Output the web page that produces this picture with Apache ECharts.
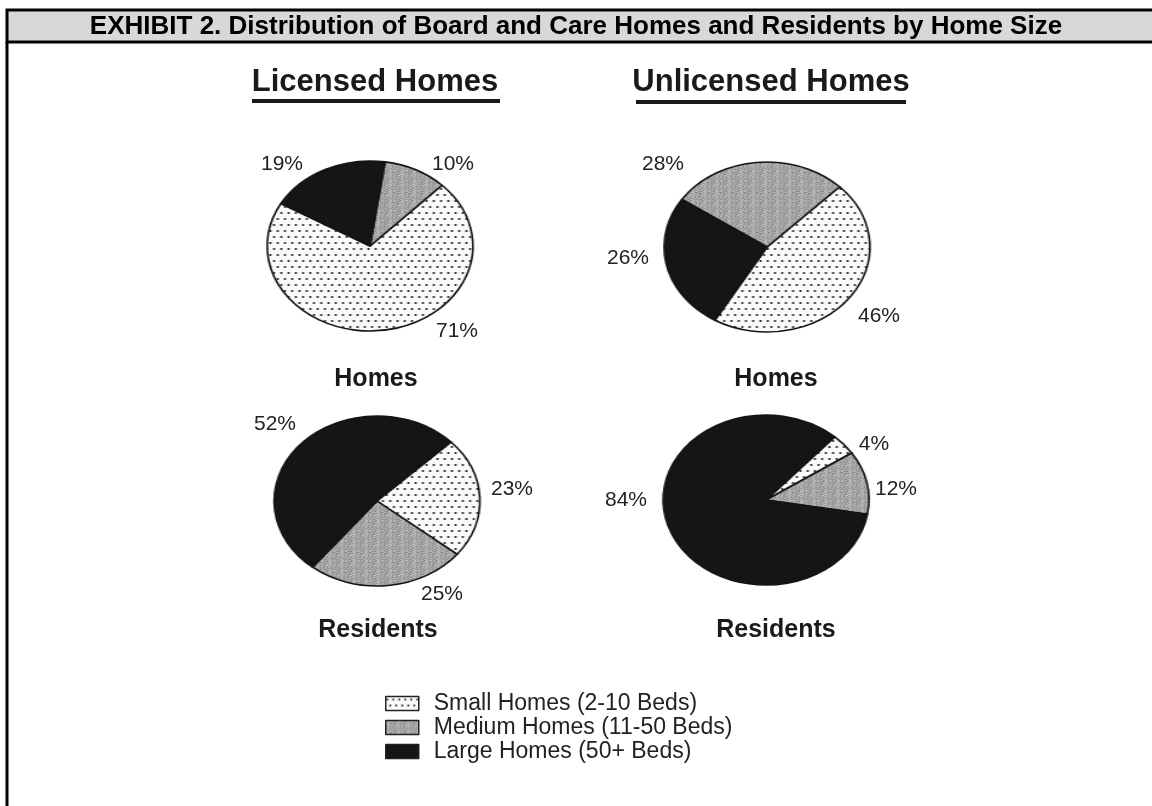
<!DOCTYPE html>
<html><head><meta charset="utf-8">
<script src="https://cdn.jsdelivr.net/npm/echarts@6/dist/echarts.min.js"></script>
<style>
html,body{margin:0;padding:0;background:#fff;overflow:hidden;}
#a{position:absolute;left:0;top:0;width:1152px;height:806px;}
#b{position:absolute;left:0;top:0;height:806px;transform-origin:0 0;pointer-events:none;}
</style></head><body>
<div id="a"></div><div id="b"></div>
<script>
// ---- data ----
const titleText = 'EXHIBIT 2. Distribution of Board and Care Homes and Residents by Home Size';
const columnTitles = ['Licensed Homes', 'Unlicensed Homes'];
const rowTitles = ['Homes', 'Residents'];
const categories = ['Small Homes (2-10 Beds)', 'Medium Homes (11-50 Beds)', 'Large Homes (50+ Beds)'];
const licensedHomes = [71, 10, 19];
const unlicensedHomes = [46, 28, 26];
const licensedResidents = [23, 25, 52];
const unlicensedResidents = [4, 12, 84];

// ---- layout / style ----
const SX = 1.21;            // horizontal stretch turning the round pies into ellipses
const RY = 85;
const FONT = '"Liberation Sans", Arial, Helvetica, sans-serif';
const pies = [
  { values: licensedHomes,       center: [370, 246], startAngle: 150,  clockwise: false,
    labels: [[457, 331], [453, 164], [282, 164]] },
  { values: unlicensedHomes,     center: [767, 247], startAngle: 239.5, clockwise: false,
    labels: [[879, 316], [663, 164], [628, 258]] },
  { values: licensedResidents,   center: [377, 501], startAngle: 44,   clockwise: true,
    labels: [[512, 489], [442, 594], [275, 424]] },
  { values: unlicensedResidents, center: [766, 500], startAngle: 48,   clockwise: true,
    labels: [[874, 444], [896, 489], [626, 500]] }
];

function dotPattern() {
  const c = document.createElement('canvas'); c.width = 6; c.height = 12;
  const g = c.getContext('2d');
  g.fillStyle = '#fafafa'; g.fillRect(0, 0, 6, 12);
  g.fillStyle = '#1e1e1e';
  [[1.5, 3], [4.5, 9]].forEach(function (p) { g.beginPath(); g.arc(p[0], p[1], 1.05, 0, Math.PI * 2); g.fill(); });
  return c;
}
function greyPattern() {
  const n = 10;
  const c = document.createElement('canvas'); c.width = n; c.height = n;
  const g = c.getContext('2d');
  const img = g.createImageData(n, n);
  for (let j = 0; j < n; j++) for (let i = 0; i < n; i++) {
    const h = ((i * 7 + j * 13 + (i * j) % 5) * 29) % 61;
    const v = 134 + h;
    const k = (j * n + i) * 4;
    img.data[k] = v; img.data[k + 1] = v; img.data[k + 2] = v; img.data[k + 3] = 255;
  }
  g.putImageData(img, 0, 0);
  return c;
}
const fills = [
  { image: dotPattern(), repeat: 'repeat' },
  { image: greyPattern(), repeat: 'repeat' },
  '#151515'
];

// ---- chart B: the pie slices (stretched horizontally) ----
const elB = document.getElementById('b');
elB.style.width = (1152 / SX) + 'px';
elB.style.transform = 'scaleX(' + SX + ')';
const chartB = echarts.init(elB, null, { renderer: 'canvas' });
chartB.setOption({
  animation: false,
  series: pies.map(function (p) {
    return {
      type: 'pie', silent: true,
      center: [p.center[0] / SX, p.center[1]], radius: RY,
      startAngle: p.startAngle, clockwise: p.clockwise,
      label: { show: false }, labelLine: { show: false },
      itemStyle: { borderColor: '#141414', borderWidth: 1.6 },
      emphasis: { disabled: true },
      data: p.values.map(function (v, i) { return { name: categories[i], value: v, itemStyle: { color: fills[i] } }; })
    };
  })
});

// ---- chart A: frame, texts, percentage labels, legend ----
const chartA = echarts.init(document.getElementById('a'), null, { renderer: 'canvas' });
function txt(x, y, s, size, bold, color) {
  return { type: 'text', x: x, y: y, style: { text: s, fontFamily: FONT, fontWeight: bold ? 'bold' : 'normal', fontSize: size, fill: color, align: 'center', verticalAlign: 'middle' } };
}
const graphic = [
  { type: 'rect', shape: { x: 7, y: 10, width: 1160, height: 32 }, style: { fill: '#d8d8d8', stroke: '#000', lineWidth: 3 } },
  { type: 'line', shape: { x1: 7, y1: 42, x2: 7, y2: 812 }, style: { stroke: '#000', lineWidth: 3 } },
  txt(576, 27, titleText, 26, true, '#000'),
  txt(375, 82, columnTitles[0], 31, true, '#1a1a1a'),
  txt(771, 82, columnTitles[1], 31, true, '#1a1a1a'),
  { type: 'rect', shape: { x: 252, y: 99, width: 248, height: 4 }, style: { fill: '#1a1a1a' } },
  { type: 'rect', shape: { x: 636, y: 100, width: 270, height: 4 }, style: { fill: '#1a1a1a' } },
  txt(376, 379, rowTitles[0], 25, true, '#1a1a1a'),
  txt(776, 379, rowTitles[0], 25, true, '#1a1a1a'),
  txt(378, 630, rowTitles[1], 25, true, '#1a1a1a'),
  txt(776, 630, rowTitles[1], 25, true, '#1a1a1a')
];

chartA.setOption({
  animation: false,
  graphic: graphic,
  legend: {
    orient: 'vertical', left: 380, top: 687,
    icon: 'rect', itemWidth: 33, itemHeight: 14, itemGap: 1,
    selectedMode: false,
    textStyle: { fontFamily: FONT, fontSize: 23, lineHeight: 23, color: '#222', padding: [0, 0, 0, 10] },
    data: categories.map(function (c, i) {
      return { name: c, itemStyle: { color: fills[i], borderColor: '#222', borderWidth: 1.5, opacity: 1 } };
    })
  },
  series: pies.map(function (p) {
    return {
      type: 'pie', silent: true,
      center: p.center, radius: RY,
      startAngle: p.startAngle, clockwise: p.clockwise,
      avoidLabelOverlap: false,
      itemStyle: { color: 'rgba(0,0,0,0)', borderWidth: 0 },
      emphasis: { disabled: true },
      label: { show: true, position: 'outside', formatter: '{c}%', fontFamily: FONT, fontSize: 21, color: '#222' },
      labelLine: { show: false },
      labelLayout: function (params) {
        const xy = p.labels[params.dataIndex];
        return { x: xy[0], y: xy[1], align: 'center', verticalAlign: 'middle' };
      },
      data: p.values.map(function (v, i) { return { name: categories[i], value: v }; })
    };
  })
});
</script>
</body></html>
